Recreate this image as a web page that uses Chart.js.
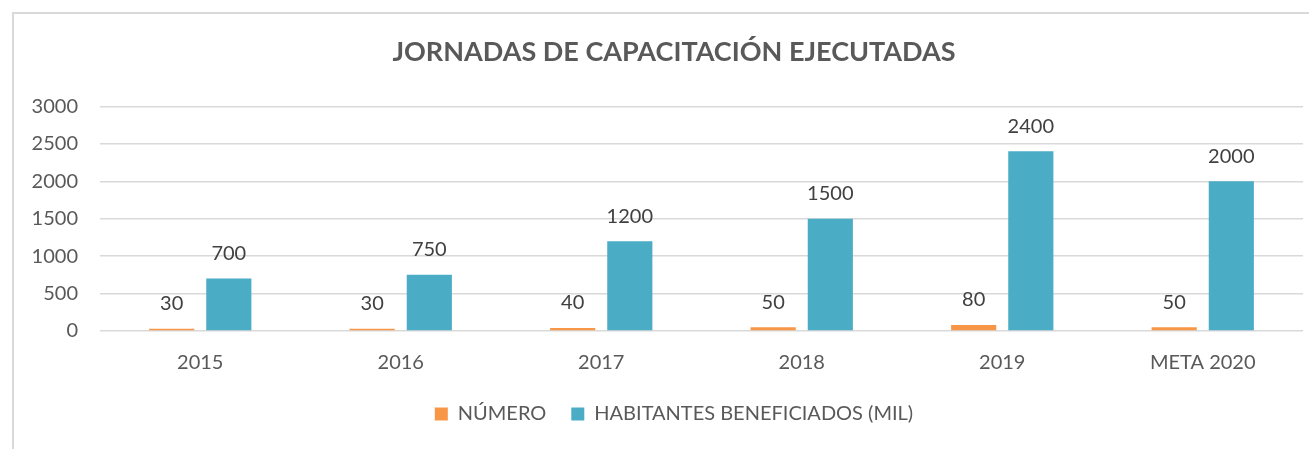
<!DOCTYPE html>
<html>
<head>
<meta charset="utf-8">
<title>Jornadas de capacitación</title>
<script src="https://cdn.jsdelivr.net/npm/chart.js@4.4.1/dist/chart.umd.min.js"></script>
<style>
  html, body { margin: 0; padding: 0; background: #fff; overflow: hidden; }
  #frame {
    position: absolute; left: 12px; top: 12px;
    width: 1320px; height: 437px;
    border-left: 2px solid #d9d9d9; border-top: 2px solid #d9d9d9;
  }
  #frame canvas { display: block; }
</style>
</head>
<body>
<div id="frame"><canvas id="chart" width="1320" height="435"></canvas></div>
<script>
// datos
var categorias = ["2015", "2016", "2017", "2018", "2019", "META 2020"];
var numero = [30, 30, 40, 50, 80, 50];
var habitantes = [700, 750, 1200, 1500, 2400, 2000];
var ticksY = [0, 500, 1000, 1500, 2000, 2500, 3000];

var FONT = "Lato, 'Noto Sans', sans-serif";

// etiquetas de valor encima de cada barra
var valueLabels = {
  id: 'valueLabels',
  afterDatasetsDraw: function(chart) {
    var ctx = chart.ctx;
    ctx.save();
    ctx.font = '20px ' + FONT;
    ctx.fillStyle = '#404040';
    ctx.textAlign = 'center';
    ctx.textBaseline = 'middle';
    chart.data.datasets.forEach(function(ds, i) {
      chart.getDatasetMeta(i).data.forEach(function(bar, j) {
        ctx.fillText(ds.data[j], bar.x, bar.y - 25);
      });
    });
    ctx.restore();
  }
};

new Chart(document.getElementById('chart'), {
  type: 'bar',
  data: {
    labels: categorias,
    datasets: [
      { label: 'NÚMERO', data: numero, backgroundColor: '#F79646' },
      { label: 'HABITANTES BENEFICIADOS (MIL)', data: habitantes, backgroundColor: '#4BACC6' }
    ]
  },
  options: {
    responsive: false,
    animation: false,
    categoryPercentage: 0.57,
    barPercentage: 0.79,
    layout: { padding: { left: 0, right: 0, top: 0, bottom: 15 } },
    plugins: {
      title: {
        display: true,
        text: 'JORNADAS DE CAPACITACIÓN EJECUTADAS',
        color: '#595959',
        font: { family: FONT, size: 27, weight: 'bold' },
        padding: { top: 22, bottom: 38 }
      },
      legend: {
        position: 'bottom',
        labels: {
          color: '#595959',
          font: { family: FONT, size: 20 },
          boxWidth: 13, boxHeight: 13,
          padding: 25
        }
      },
      tooltip: { enabled: false }
    },
    scales: {
      x: {
        afterFit: function(s) { s.height = 48; },
        grid: { display: false, drawTicks: false },
        border: { display: false },
        ticks: { color: '#595959', font: { family: FONT, size: 20 }, padding: 20 }
      },
      y: {
        min: 0, max: 3000,
        afterBuildTicks: function(s) { s.ticks = ticksY.map(function(v) { return { value: v }; }); },
        afterFit: function(s) { s.width = 86; },
        grid: { color: '#d9d9d9', lineWidth: 1.5, drawTicks: false },
        border: { display: false },
        ticks: {
          color: '#595959', font: { family: FONT, size: 20 }, padding: 22,
          callback: function(v) { return String(v); }
        }
      },
      // eje vacio a la derecha: deja el margen sin descentrar titulo y leyenda
      derecha: {
        position: 'right',
        min: 0, max: 3000,
        afterFit: function(s) { s.width = 31; },
        grid: { display: false, drawTicks: false },
        border: { display: false },
        ticks: { display: false }
      }
    }
  },
  plugins: [valueLabels]
});
</script>
</body>
</html>
